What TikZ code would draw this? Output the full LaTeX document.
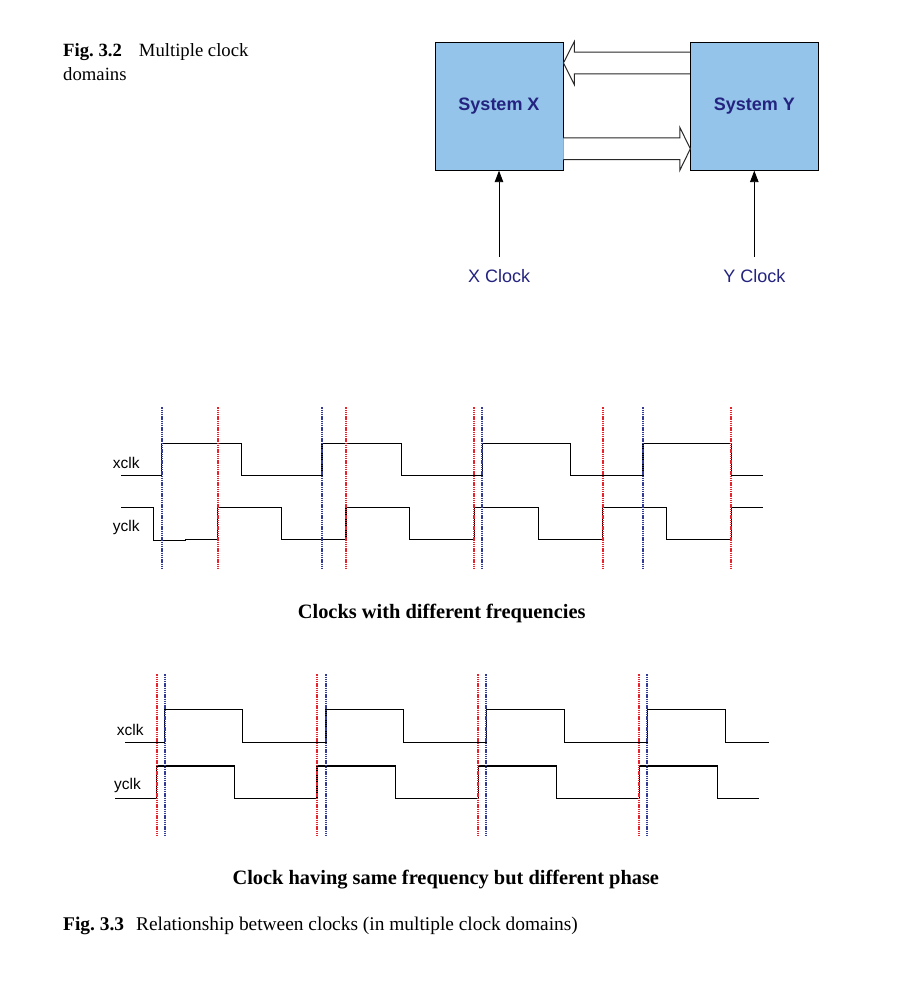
\documentclass[tikz,border=0pt]{standalone}
\usepackage{fontspec}
\setmainfont{Liberation Serif}
\setsansfont{Liberation Sans}
\usetikzlibrary{arrows.meta,calc}
\definecolor{boxfill}{RGB}{148,196,233}
\definecolor{navy}{RGB}{36,36,128}
\definecolor{dotblue}{RGB}{50,60,150}
\definecolor{dotred}{RGB}{232,35,45}
\definecolor{arrgray}{RGB}{40,40,40}
\begin{document}
\begin{tikzpicture}[x=1pt,y=-1pt,
  sysbox/.style={draw=black, line width=0.9pt, fill=boxfill, minimum width=128pt, minimum height=128pt, inner sep=0pt, font=\sffamily\bfseries\fontsize{18}{21}\selectfont, text=navy},
  clklabel/.style={font=\sffamily\fontsize{18}{21}\selectfont, text=navy, inner sep=0pt, anchor=base},
  hollow/.style={draw=arrgray, line width=1pt, fill=white, line join=miter},
  clkarrow/.style={draw=black, line width=0.9pt, -{Triangle[length=11.5pt,width=8.5pt]}},
  wave/.style={draw=black, line width=1.3pt, line join=miter},
  sig/.style={font=\sffamily\fontsize{15.5}{18}\selectfont, inner sep=0pt, anchor=base west},
  bdot/.style={draw=dotblue, line width=1.9pt, dash pattern=on 1.4pt off 0.8pt},
  rdot/.style={draw=dotred, line width=1.9pt, dash pattern=on 1.4pt off 0.8pt},
  bdotthin/.style={draw=dotblue, line width=1.7pt, dash pattern=on 1.4pt off 0.8pt},
  rdotthin/.style={draw=dotred, line width=1.7pt, dash pattern=on 1.4pt off 0.8pt},
  captext/.style={font=\bfseries\fontsize{20.4}{24}\selectfont, inner sep=0pt, anchor=base},
  figtext/.style={inner sep=0pt, anchor=base west}
]
\useasboundingbox (0,0) rectangle (912,986);
\fill[white] (0,0) rectangle (912,986);

% ---------- Fig. 3.2 ----------
\node[figtext, font=\fontsize{18.7}{23}\selectfont] (f32a) at (63,56.7) {\textbf{Fig.~3.2}\hspace{17pt}Multiple clock};
\node[figtext, font=\fontsize{18.7}{23}\selectfont] (f32b) at (63,80) {domains};

\node[sysbox] (sx) at (499,106.2) {System X};
\node[sysbox] (sy) at (754.3,106.2) {System Y};

% hollow arrow Y -> X (top)
\coordinate (ta) at ($(sy.north west)+(0,21.2)$);
\coordinate (tatip) at ($(sx.north east)+(0,21.2)$);
\draw[hollow] ($(ta)+(0,-10.8)$) -- ($(tatip)+(10.8,-10.8)$) -- ($(tatip)+(10.8,-21.3)$) -- (tatip)
  -- ($(tatip)+(10.8,21.5)$) -- ($(tatip)+(10.8,10.8)$) -- ($(ta)+(0,10.8)$);
% hollow arrow X -> Y (bottom)
\coordinate (tb) at ($(sx.north east)+(0,107)$);
\coordinate (tbtip) at ($(sy.north west)+(0.5,107)$);
\draw[hollow] ($(tb)+(0,-10.8)$) -- ($(tbtip)+(-10.6,-10.8)$) -- ($(tbtip)+(-10.6,-21.5)$) -- (tbtip)
  -- ($(tbtip)+(-10.6,21.7)$) -- ($(tbtip)+(-10.6,10.8)$) -- ($(tb)+(0,10.8)$);

\node[clklabel] (xcl) at (499.2,282.3) {X Clock};
\node[clklabel] (ycl) at (754.5,282.3) {Y Clock};
\coordinate (xcs) at (499,256.7);
\coordinate (ycs) at (754.3,256.7);
\draw[clkarrow] (xcs) -- (sx.south);
\draw[clkarrow] (ycs) -- (sy.south);

% ---------- Clocks with different frequencies ----------
\node[sig] (x1) at (112.7,468.3) {xclk};
\node[sig] (y1) at (112.7,531.7) {yclk};

\draw[wave] (121,475.3) -- (161.7,475.3) -- (161.7,443.3) -- (241.7,443.3) -- (241.7,475.3)
  -- (322,475.3) -- (322,443.3) -- (401.7,443.3) -- (401.7,475.3)
  -- (482.3,475.3) -- (482.3,443.3) -- (570.3,443.3) -- (570.3,475.3)
  -- (643,475.3) -- (643,443.3) -- (731.3,443.3) -- (731.3,475.3) -- (763.3,475.3);

\draw[wave] (121,507.3) -- (153.3,507.3) -- (153.3,540.3) -- (185.7,540.3) -- (185.7,539.3)
  -- (217.7,539.3) -- (217.7,507.3) -- (281.3,507.3) -- (281.3,539.3)
  -- (346,539.3) -- (346,507.3) -- (409.7,507.3) -- (409.7,539.3)
  -- (474.3,539.3) -- (474.3,507.3) -- (538.3,507.3) -- (538.3,539.3)
  -- (602.3,539.3) -- (602.3,507.3) -- (666.3,507.3) -- (666.3,539.3)
  -- (731.3,539.3) -- (731.3,507.3) -- (762.7,507.3);

\foreach \x in {161.7,322,482.3,643} \draw[bdot] (\x,407.3) -- (\x,569);
\foreach \x in {217.7,346.3,474.3,602.7,731} \draw[rdot] (\x,407.3) -- (\x,569);

\node[captext] (c1) at (441.7,618.3) {Clocks with different frequencies};

% ---------- Clock having same frequency but different phase ----------
\node[sig] (x2) at (116.7,735) {xclk};
\node[sig] (y2) at (114,789) {yclk};

\draw[wave] (125,742.3) -- (164.3,742.3) -- (164.3,709.3) -- (242.7,709.3) -- (242.7,742.3)
  -- (326,742.3) -- (326,709.3) -- (403.3,709.3) -- (403.3,742.3)
  -- (486.3,742.3) -- (486.3,709.3) -- (564.3,709.3) -- (564.3,742.3)
  -- (647.3,742.3) -- (647.3,709.3) -- (725.3,709.3) -- (725.3,742.3) -- (768.7,742.3);

\draw[wave] (115,798.3) -- (156.3,798.3) -- (156.3,766) -- (234.3,766) -- (234.3,798.3)
  -- (317,798.3) -- (317,766) -- (395.3,766) -- (395.3,798.3)
  -- (478.3,798.3) -- (478.3,766) -- (556.3,766) -- (556.3,798.3)
  -- (639.3,798.3) -- (639.3,766) -- (717.3,766) -- (717.3,798.3) -- (758.7,798.3);

\foreach \x in {156.7,317.3,478,639} \draw[rdotthin] (\x,674.3) -- (\x,835.7);
\foreach \x in {164.7,325.7,486,647} \draw[bdotthin] (\x,674.3) -- (\x,835.7);

\node[captext] (c2) at (445.8,884.7) {Clock having same frequency but different phase};

\node[figtext, font=\fontsize{19.4}{23}\selectfont] (f33) at (63,930) {\textbf{Fig.~3.3}\hspace{12pt}Relationship between clocks (in multiple clock domains)};
\end{tikzpicture}
\end{document}
